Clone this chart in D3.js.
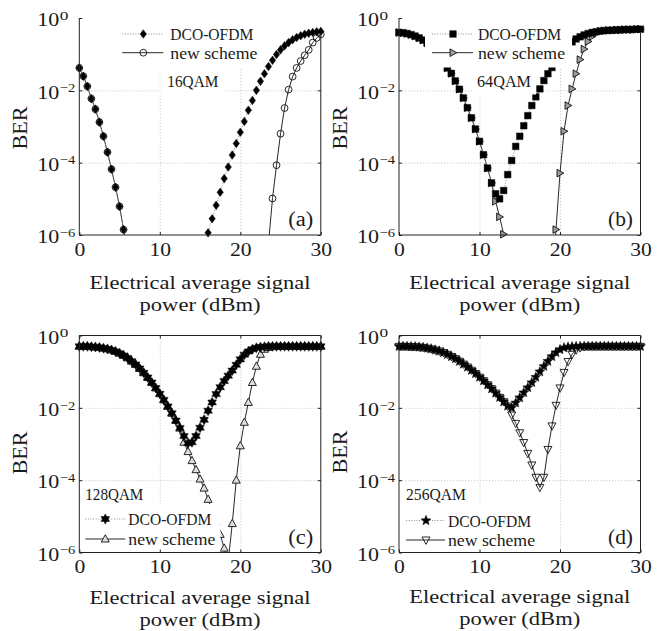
<!DOCTYPE html>
<html>
<head>
<meta charset="utf-8">
<script src="https://cdn.jsdelivr.net/npm/d3@7"></script>
<style>
body { margin: 0; background: #fff; }
svg text { font-family: "Liberation Serif", "Times New Roman", serif; fill: #1a1a1a; }
</style>
</head>
<body>
<svg id="fig" width="663" height="631"></svg>
<script>
// x axis: electrical average signal power (dBm)
var power = [0,0.5,1,1.5,2,2.5,3,3.5,4,4.5,
	5,5.5,6,6.5,7,7.5,8,8.5,9,9.5,
	10,10.5,11,11.5,12,12.5,13,13.5,14,14.5,
	15,15.5,16,16.5,17,17.5,18,18.5,19,19.5,
	20,20.5,21,21.5,22,22.5,23,23.5,24,24.5,
	25,25.5,26,26.5,27,27.5,28,28.5,29,29.5,
	30];

var ticksX = [0, 10, 20, 30];
var ticksY = [1, 1e-2, 1e-4, 1e-6];
var gridX = [10, 20];
var gridY = [1e-2, 1e-4];
var seriesNames = ["DCO-OFDM", "new scheme"];
var qamLabels = ["16QAM", "64QAM", "128QAM", "256QAM"];
var panelTags = ["(a)", "(b)", "(c)", "(d)"];

// series values are log10(BER), null = far below 1e-6
var dco16 = [-1.38,-1.61,-1.89,-2.23,-2.52,-2.88,-3.27,-3.71,-4.18,-4.68,
	-5.21,-5.85,-6.5,null,null,null,null,null,null,null,
	null,null,null,null,null,null,null,null,null,null,
	null,-6.6,-5.94,-5.55,-5.18,-4.82,-4.44,-4.12,-3.79,-3.47,
	-3.16,-2.86,-2.55,-2.28,-2.00,-1.75,-1.54,-1.34,-1.17,-1.01,
	-0.88,-0.77,-0.68,-0.60,-0.54,-0.49,-0.45,-0.42,-0.40,-0.38,
	-0.37];
var new16 = [-1.38,-1.61,-1.89,-2.23,-2.52,-2.88,-3.27,-3.71,-4.18,-4.68,
	-5.21,-5.85,-6.5,null,null,null,null,null,null,null,
	null,null,null,null,null,null,null,null,null,null,
	null,null,null,null,null,null,null,null,null,null,
	null,null,null,null,null,null,null,-6.25,-4.99,-4.07,
	-3.20,-2.49,-1.98,-1.62,-1.38,-1.19,-1.03,-0.88,-0.68,-0.55,
	-0.45];

var dco64 = [-0.40,-0.41,-0.43,-0.46,-0.50,-0.55,-0.61,-0.69,-0.78,-0.89,
	-1.02,-1.19,-1.38,-1.53,-1.74,-1.97,-2.21,-2.48,-2.76,-3.07,
	-3.41,-3.78,-4.15,-4.56,-4.86,-5.00,-4.77,-4.33,-3.94,-3.55,
	-3.27,-2.98,-2.70,-2.42,-2.18,-1.96,-1.73,-1.54,-1.37,-1.20,
	-1.05,-0.90,-0.78,-0.66,-0.58,-0.52,-0.47,-0.43,-0.40,-0.38,
	-0.36,-0.35,-0.34,-0.34,-0.33,-0.33,-0.32,-0.32,-0.32,-0.31,
	-0.31];
var new64 = [-0.40,-0.41,-0.43,-0.46,-0.50,-0.55,-0.61,-0.69,-0.78,-0.89,
	-1.02,-1.19,-1.38,-1.53,-1.74,-1.97,-2.21,-2.48,-2.76,-3.07,
	-3.41,-3.78,-4.15,-4.56,-5.07,-5.50,-5.98,-6.6,null,null,
	null,null,null,null,null,null,null,null,-7.5,-5.85,
	-4.29,-3.13,-2.42,-1.96,-1.54,-1.15,-0.86,-0.65,-0.51,-0.42,
	-0.37,-0.35,-0.34,-0.34,-0.33,-0.33,-0.32,-0.32,-0.32,-0.31,
	-0.31];

var dco128 = [-0.30,-0.30,-0.30,-0.31,-0.32,-0.33,-0.35,-0.37,-0.40,-0.44,
	-0.49,-0.55,-0.62,-0.71,-0.80,-0.91,-1.03,-1.16,-1.30,-1.45,
	-1.61,-1.78,-1.96,-2.15,-2.35,-2.56,-2.78,-2.98,-2.95,-2.78,
	-2.55,-2.33,-2.08,-1.85,-1.62,-1.43,-1.26,-1.11,-0.97,-0.81,
	-0.66,-0.53,-0.44,-0.38,-0.34,-0.32,-0.31,-0.30,-0.30,-0.30,
	-0.30,-0.30,-0.30,-0.30,-0.30,-0.30,-0.30,-0.30,-0.30,-0.30,
	-0.30];
var new128 = [-0.30,-0.30,-0.30,-0.31,-0.32,-0.33,-0.35,-0.37,-0.40,-0.44,
	-0.49,-0.55,-0.62,-0.71,-0.80,-0.91,-1.03,-1.16,-1.30,-1.45,
	-1.61,-1.78,-1.96,-2.15,-2.35,-2.56,-2.95,-3.21,-3.46,-3.71,
	-3.97,-4.22,-4.53,-4.85,-5.15,-5.50,-5.88,-6.25,-5.20,-4.00,
	-3.05,-2.40,-1.85,-1.30,-0.85,-0.52,-0.38,-0.33,-0.31,-0.30,
	-0.30,-0.30,-0.30,-0.30,-0.30,-0.30,-0.30,-0.30,-0.30,-0.30,
	-0.30];

var dco256 = [-0.30,-0.30,-0.30,-0.31,-0.31,-0.32,-0.33,-0.35,-0.37,-0.40,
	-0.43,-0.47,-0.52,-0.58,-0.64,-0.71,-0.79,-0.87,-0.96,-1.05,
	-1.15,-1.25,-1.36,-1.47,-1.59,-1.71,-1.83,-1.95,-2.00,-1.86,
	-1.72,-1.58,-1.44,-1.30,-1.15,-1.00,-0.85,-0.71,-0.58,-0.47,
	-0.39,-0.34,-0.32,-0.31,-0.30,-0.30,-0.30,-0.30,-0.30,-0.30,
	-0.30,-0.30,-0.30,-0.30,-0.30,-0.30,-0.30,-0.30,-0.30,-0.30,
	-0.30];
var new256 = [-0.30,-0.30,-0.30,-0.31,-0.31,-0.32,-0.33,-0.35,-0.37,-0.40,
	-0.43,-0.47,-0.52,-0.58,-0.64,-0.71,-0.79,-0.87,-0.96,-1.05,
	-1.15,-1.25,-1.36,-1.47,-1.59,-1.71,-1.83,-1.95,-2.20,-2.43,
	-2.69,-2.96,-3.26,-3.58,-3.92,-4.20,-3.92,-3.15,-2.50,-1.93,
	-1.45,-1.02,-0.72,-0.52,-0.40,-0.34,-0.31,-0.30,-0.30,-0.30,
	-0.30,-0.30,-0.30,-0.30,-0.30,-0.30,-0.30,-0.30,-0.30,-0.30,
	-0.30];

var W = 241.5, H = 217;

// layout of the four panels
var panels = [
	{ x0: 79.3, y0: 18, dco: dco16, nsc: new16, dcoMark: "diamond", newMark: "circle", newFill: "none",
		top: false, berY: 128, labY: [289, 311],
		leg: { box: [35, 0, 145, 49.5], rows: [16, 34.7], line: [43, 84], mark: 64, text: 91,
			qam: [88, 69], qamBox: [81, 49.5, 64, 27], qamW: 51 } },
	{ x0: 399, y0: 18, dco: dco64, nsc: new64, dcoMark: "square", newMark: "right", newFill: "#9c9c9c",
		top: false, berY: 128, labY: [289, 311],
		leg: { box: [26, 0, 147, 49.5], rows: [16, 34.7], line: [33, 74], mark: 54, text: 79,
			qam: [78, 69], qamBox: [75, 49.5, 62, 27], qamW: 54 } },
	{ x0: 79.3, y0: 335.5, dco: dco128, nsc: new128, dcoMark: "hexagram", newMark: "up", newFill: "#dedede",
		top: true, berY: 453, labY: [604, 626],
		leg: { box: [3, 168.5, 138, 47.5], rows: [183.5, 203.5], line: [6, 46], mark: 26, text: 49,
			qam: [6, 164.5], qamBox: null, qamW: 58 } },
	{ x0: 399, y0: 335.5, dco: dco256, nsc: new256, dcoMark: "pentagram", newMark: "down", newFill: "none",
		top: true, berY: 452, labY: [603, 625],
		leg: { box: [3, 168.5, 138, 47.5], rows: [185, 204.5], line: [7, 46], mark: 27, text: 49,
			qam: [7, 164.5], qamBox: null, qamW: 60 } }
];

function star(n, R, r) {
	var pts = [];
	for (var k = 0; k < 2 * n; k++) {
		var a = -Math.PI / 2 + k * Math.PI / n;
		var rr = k % 2 ? r : R;
		pts.push([rr * Math.cos(a), rr * Math.sin(a)]);
	}
	return "M" + pts.map(function(p) { return p[0].toFixed(2) + "," + p[1].toFixed(2); }).join("L") + "Z";
}

function markerPath(type) {
	switch (type) {
		case "diamond": return "M0,-4.3L3.2,0L0,4.3L-3.2,0Z";
		case "square": return "M-3.3,-3.3H3.3V3.3H-3.3Z";
		case "circle": return "M3.4,0A3.4,3.4 0 1 1 -3.4,0A3.4,3.4 0 1 1 3.4,0Z";
		case "right": return "M-3,-3.8L3.8,0L-3,3.8Z";
		case "up": return "M0,-4.3L4,3L-4,3Z";
		case "down": return "M-4,-3L4,-3L0,4.3Z";
		case "hexagram": return star(6, 5, 2.9);
		case "pentagram": return star(5, 5.2, 2.3);
	}
}

// stretch a text to a given width
function fit(sel, w) {
	sel.attr("textLength", w).attr("lengthAdjust", "spacingAndGlyphs");
}

var svg = d3.select("#fig");

panels.forEach(function(p, i) {
	var x = d3.scaleLinear().domain([0, 30]).range([p.x0, p.x0 + W]);
	var y = d3.scaleLog().domain([1e-6, 1]).range([p.y0 + H, p.y0]);
	var g = svg.append("g");

	g.append("clipPath").attr("id", "clip" + i)
		.append("rect").attr("x", p.x0).attr("y", p.y0).attr("width", W).attr("height", H);

	// grid
	var gx = g.append("g").attr("transform", "translate(0," + (p.y0 + H) + ")")
		.call(d3.axisBottom(x).tickValues(gridX).tickSize(-H).tickFormat(""));
	var gy = g.append("g").attr("transform", "translate(" + p.x0 + ",0)")
		.call(d3.axisLeft(y).tickValues(gridY).tickSize(-W).tickFormat(""));
	[gx, gy].forEach(function(a) {
		a.select(".domain").remove();
		a.selectAll("line").attr("stroke", "#c2c2c2").attr("stroke-width", 0.8).attr("stroke-dasharray", "1.2,1.8");
	});

	var line = d3.line()
		.defined(function(d) { return d[1] != null; })
		.x(function(d) { return x(d[0]); })
		.y(function(d) { return y(Math.pow(10, d[1])); });

	function drawSeries(vals, isDco) {
		var pts = d3.zip(power, vals);
		g.append("path").datum(pts)
			.attr("clip-path", "url(#clip" + i + ")")
			.attr("d", line)
			.attr("fill", "none")
			.attr("stroke", isDco ? "#8c8c8c" : "#111")
			.attr("stroke-width", isDco ? 1 : 0.9)
			.attr("stroke-dasharray", isDco ? "1,1.6" : null);
		g.selectAll(null)
			.data(pts.filter(function(d) { return d[1] != null && d[1] >= -6.02 && d[1] <= 0; }))
			.enter().append("path")
			.attr("transform", function(d) { return "translate(" + x(d[0]) + "," + y(Math.pow(10, d[1])) + ")"; })
			.attr("d", markerPath(isDco ? p.dcoMark : p.newMark))
			.attr("fill", isDco ? "#000" : p.newFill)
			.attr("stroke", "#111")
			.attr("stroke-width", isDco ? 0.5 : 0.9);
	}
	drawSeries(p.nsc, false);
	drawSeries(p.dco, true);

	// legend
	var L = p.leg;
	g.append("rect").attr("x", p.x0 + L.box[0]).attr("y", p.y0 + L.box[1])
		.attr("width", L.box[2]).attr("height", L.box[3]).attr("fill", "#fff");
	seriesNames.forEach(function(name, k) {
		var ry = p.y0 + L.rows[k];
		g.append("line").attr("x1", p.x0 + L.line[0]).attr("x2", p.x0 + L.line[1])
			.attr("y1", ry).attr("y2", ry)
			.attr("stroke", k == 0 ? "#8c8c8c" : "#111")
			.attr("stroke-width", k == 0 ? 1 : 0.9)
			.attr("stroke-dasharray", k == 0 ? "1,1.6" : null);
		g.append("path").attr("transform", "translate(" + (p.x0 + L.mark) + "," + ry + ")")
			.attr("d", markerPath(k == 0 ? p.dcoMark : p.newMark))
			.attr("fill", k == 0 ? "#000" : p.newFill)
			.attr("stroke", "#111").attr("stroke-width", k == 0 ? 0.5 : 0.9);
		g.append("text").attr("x", p.x0 + L.text).attr("y", ry + 6)
			.attr("font-size", 16.5).text(name)
			.call(fit, k == 0 ? 83 : 87);
	});
	if (L.qamBox) {
		g.append("rect").attr("x", p.x0 + L.qamBox[0]).attr("y", p.y0 + L.qamBox[1])
			.attr("width", L.qamBox[2]).attr("height", L.qamBox[3]).attr("fill", "#fff");
	}
	g.append("text").attr("x", p.x0 + L.qam[0]).attr("y", p.y0 + L.qam[1])
		.attr("font-size", 16.5).text(qamLabels[i]).call(fit, L.qamW);

	// axes
	var ax = g.append("g").attr("transform", "translate(0," + (p.y0 + H) + ")")
		.call(d3.axisBottom(x).tickValues(ticksX).tickSize(-3).tickSizeOuter(0).tickPadding(8.2));
	ax.attr("font-family", null).attr("font-size", null).attr("color", "#222");
	ax.select(".domain").remove();
	ax.selectAll("text").attr("font-size", 18).each(function() {
		var t = d3.select(this);
		t.call(fit, this.getComputedTextLength() * 1.2);
	});

	var ay = g.append("g").attr("transform", "translate(" + p.x0 + ",0)")
		.call(d3.axisLeft(y).tickValues(ticksY).tickSize(-3).tickSizeOuter(0).tickFormat(""));
	ay.attr("font-family", null).attr("font-size", null).attr("text-anchor", null).attr("color", "#222");
	ay.select(".domain").remove();
	ay.selectAll(".tick").each(function(d) {
		var e = Math.round(Math.log10(d));
		var t = d3.select(this);
		t.append("text").attr("x", -42).attr("y", 7.8).attr("font-size", 18)
			.attr("text-anchor", "start").text("10").call(fit, 22);
		var sup = e == 0 ? "0" : "\u2212" + (-e);
		t.append("text").attr("x", -19.5).attr("y", 1.2).attr("font-size", 12.5)
			.attr("text-anchor", "start").text(sup).call(fit, e == 0 ? 8.6 : 15.5);
	});

	// mirrored ticks
	var ar = g.append("g").attr("transform", "translate(" + (p.x0 + W) + ",0)")
		.call(d3.axisRight(y).tickValues(ticksY.slice(1)).tickSize(-3).tickSizeOuter(0).tickFormat(""))
		.attr("color", "#222");
	ar.select(".domain").remove();
	if (p.top) {
		var at = g.append("g").attr("transform", "translate(0," + p.y0 + ")")
			.call(d3.axisTop(x).tickValues(ticksX).tickSize(-3).tickSizeOuter(0).tickFormat(""))
			.attr("color", "#222");
		at.select(".domain").remove();
	}

	// frame
	var x1 = p.x0 + W, yb = p.y0 + H;
	var frame = "M" + p.x0 + "," + p.y0 + "V" + yb + "H" + x1 + "V" + (p.top ? p.y0 : p.y0 + 15);
	if (p.top) frame += "H" + p.x0;
	g.append("path").attr("d", frame).attr("fill", "none").attr("stroke", "#222").attr("stroke-width", 1);

	// labels
	g.append("text").attr("transform", "translate(" + (p.x0 - 58.5) + "," + p.berY + ") rotate(-90)")
		.attr("text-anchor", "middle").attr("dy", "0.33em").attr("font-size", 20)
		.text("BER").call(fit, 43);
	g.append("text").attr("x", p.x0 + W / 2).attr("y", p.labY[0]).attr("text-anchor", "middle")
		.attr("font-size", 19.5).text("Electrical average signal").call(fit, 221);
	g.append("text").attr("x", p.x0 + W / 2).attr("y", p.labY[1]).attr("text-anchor", "middle")
		.attr("font-size", 19.5).text("power (dBm)").call(fit, 121);
	g.append("text").attr("x", p.x0 + 234).attr("y", yb - 9).attr("text-anchor", "end")
		.attr("font-size", 20).text(panelTags[i]).call(fit, 25);
});
</script>
</body>
</html>
